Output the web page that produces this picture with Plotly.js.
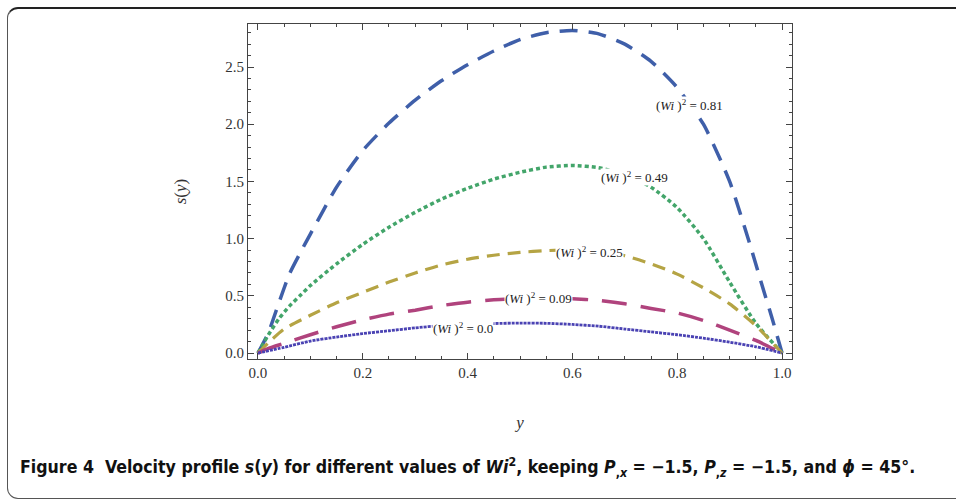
<!DOCTYPE html>
<html>
<head>
<meta charset="utf-8">
<script src="https://cdn.plot.ly/plotly-3.0.1.min.js"></script>
<style>
  html, body { margin: 0; padding: 0; background: #fff; }
  #frame { position: absolute; left: 7px; top: 7px; width: 1000px; height: 489px;
           border: 1.5px solid #555; border-top: 2px solid #222; border-radius: 11px 0 0 11px; }
  #chart { position: absolute; left: 0; top: 0; width: 956px; height: 499px; }
</style>
</head>
<body>
<div id="frame"></div>
<div id="chart"></div>
<script>
// Wi^2 = 0.81 (blue, long dashes)
const y081 = [0, 0.02, 0.04, 0.06, 0.08, 0.1, 0.15, 0.2, 0.25, 0.3, 0.35, 0.4, 0.45, 0.5, 0.55, 0.6, 0.65, 0.7, 0.75, 0.8, 0.85, 0.9, 0.94, 0.96, 0.98, 1.0];
const s081 = [0, 0.18, 0.44, 0.69, 0.87, 1.04, 1.45, 1.77, 2.01, 2.21, 2.38, 2.52, 2.64, 2.74, 2.80, 2.82, 2.79, 2.70, 2.55, 2.32, 2.0, 1.5, 0.93, 0.62, 0.32, 0];
// Wi^2 = 0.49 (green, dotted)
const y049 = [0, 0.02, 0.04, 0.06, 0.08, 0.1, 0.15, 0.2, 0.25, 0.3, 0.35, 0.4, 0.45, 0.5, 0.55, 0.6, 0.65, 0.7, 0.75, 0.8, 0.85, 0.9, 0.95, 1.0];
const s049 = [0, 0.16, 0.30, 0.41, 0.50, 0.59, 0.78, 0.95, 1.10, 1.23, 1.345, 1.44, 1.52, 1.58, 1.625, 1.64, 1.62, 1.56, 1.45, 1.27, 1.0, 0.62, 0.26, 0];
// Wi^2 = 0.25 (olive, dashed)
const y025 = [0, 0.02, 0.05, 0.1, 0.15, 0.2, 0.25, 0.3, 0.35, 0.4, 0.45, 0.5, 0.55, 0.6, 0.65, 0.7, 0.75, 0.8, 0.85, 0.9, 0.95, 1.0];
const s025 = [0, 0.09, 0.21, 0.33, 0.44, 0.53, 0.62, 0.70, 0.77, 0.82, 0.855, 0.88, 0.895, 0.90, 0.88, 0.85, 0.78, 0.69, 0.57, 0.43, 0.24, 0];
// Wi^2 = 0.09 (magenta, long dashes)
const y009 = [0, 0.02, 0.05, 0.1, 0.15, 0.2, 0.25, 0.3, 0.35, 0.4, 0.45, 0.5, 0.55, 0.6, 0.65, 0.7, 0.75, 0.8, 0.85, 0.9, 0.95, 1.0];
const s009 = [0, 0.04, 0.085, 0.16, 0.23, 0.29, 0.34, 0.375, 0.415, 0.445, 0.465, 0.475, 0.48, 0.475, 0.46, 0.43, 0.39, 0.35, 0.285, 0.20, 0.11, 0];
// Wi^2 = 0.0 (purple, fine dots)
const y000 = [0, 0.05, 0.1, 0.15, 0.2, 0.25, 0.3, 0.35, 0.4, 0.45, 0.5, 0.55, 0.6, 0.65, 0.7, 0.75, 0.8, 0.85, 0.9, 0.95, 1.0];
const s000 = [0, 0.05, 0.105, 0.14, 0.17, 0.195, 0.22, 0.24, 0.25, 0.258, 0.262, 0.26, 0.25, 0.235, 0.21, 0.185, 0.16, 0.13, 0.095, 0.055, 0];

// curve labels: text and anchor point (y, s)
const labelTexts = ["0.81", "0.49", "0.25", "0.09", "0.0"];
const labelY = [0.824, 0.719, 0.632, 0.536, 0.391];
const labelS = [2.17, 1.54, 0.886, 0.48, 0.216];

const xTickVals = [0, 0.2, 0.4, 0.6, 0.8, 1.0];
const xTickText = ["0.0", "0.2", "0.4", "0.6", "0.8", "1.0"];
const yTickVals = [0, 0.5, 1.0, 1.5, 2.0, 2.5];
const yTickText = ["0.0", "0.5", "1.0", "1.5", "2.0", "2.5"];

const series = [
  {x: y081, y: s081, color: '#3f5fa9', dash: '18px,11px', width: 3.5},
  {x: y049, y: s049, color: '#43a56a', dash: '4px,3px', width: 3.5},
  {x: y025, y: s025, color: '#b5a444', dash: '13px,8px', width: 3.2},
  {x: y009, y: s009, color: '#b0437d', dash: '25px,14px', width: 3.5},
  {x: y000, y: s000, color: '#4a42b3', dash: '3px,1px', width: 2.8}
];

const traces = series.map(s => ({
  type: 'scatter', mode: 'lines', x: s.x, y: s.y,
  line: {color: s.color, dash: s.dash, width: s.width, shape: 'spline', smoothing: 0.6},
  hoverinfo: 'skip', showlegend: false
}));

const annotations = labelTexts.map((t, i) => ({
  x: labelY[i], y: labelS[i], xref: 'x', yref: 'y',
  text: '(<i>Wi</i> )<sup>2</sup> = ' + t,
  showarrow: false, bgcolor: '#ffffff', borderpad: 0,
  font: {family: 'Liberation Serif, Times New Roman, serif', size: 13, color: '#222'}
}));

annotations.push({
  xref: 'paper', yref: 'paper', x: (18 - 248) / 544, y: -108 / 335, xanchor: 'left', yanchor: 'middle',
  showarrow: false,
  text: '<b>Figure 4  Velocity profile <i>s</i>(<i>y</i>) for different values of <i>Wi</i><sup>2</sup>, keeping <i>P</i><sub>,<i>x</i></sub> = \u22121.5, <i>P</i><sub>,<i>z</i></sub> = \u22121.5, and <i>\u03d5</i> = 45°.</b>',
  font: {family: 'Liberation Sans Narrow, DejaVu Sans Condensed, Open Sans, sans-serif', size: 17.6, color: '#111'}
});

const axisCommon = {
  showgrid: false, zeroline: false, showline: true, linecolor: '#444', linewidth: 1,
  mirror: 'ticks', ticks: 'inside', ticklen: 6, tickwidth: 1, tickcolor: '#444',
  tickfont: {family: 'Liberation Serif, Times New Roman, serif', size: 15, color: '#333'}
};

const layout = {
  width: 956, height: 499,
  margin: {l: 248, r: 164, t: 24, b: 140},
  paper_bgcolor: 'rgba(0,0,0,0)', plot_bgcolor: 'rgba(0,0,0,0)',
  xaxis: Object.assign({}, axisCommon, {
    range: [-0.019, 1.019], tickvals: xTickVals, ticktext: xTickText,
    minor: {dtick: 0.05, tick0: 0, ticks: 'inside', ticklen: 3, tickcolor: '#444'},
    title: {text: '<i>y</i>', standoff: 36, font: {family: 'Liberation Serif, Times New Roman, serif', size: 17, color: '#333'}}
  }),
  yaxis: Object.assign({}, axisCommon, {
    range: [-0.052, 2.876], tickvals: yTickVals, ticktext: yTickText,
    minor: {dtick: 0.1, tick0: 0, ticks: 'inside', ticklen: 3, tickcolor: '#444'},
    title: {text: '<i>s</i>(<i>y</i>)', standoff: 34, font: {family: 'Liberation Serif, Times New Roman, serif', size: 17, color: '#333'}}
  }),
  annotations: annotations
};

Plotly.newPlot('chart', traces, layout, {displayModeBar: false, staticPlot: true});
</script>
</body>
</html>
